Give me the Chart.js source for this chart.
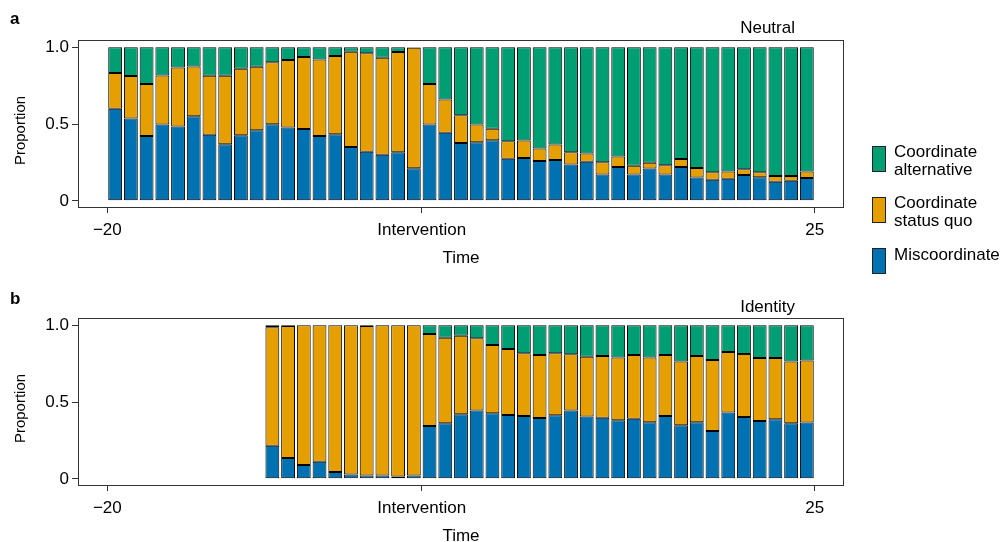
<!DOCTYPE html>
<html>
<head>
<title>Coordination over time</title>
<script src="https://cdn.jsdelivr.net/npm/chart.js"></script>
<style>
  body { margin: 0; background: #fff; font-family: "Liberation Sans", Arial, sans-serif; width: 1001px; height: 542px; position: relative; overflow: hidden; }
  canvas { position: absolute; left: 0; }
  #chartA { top: 0; }
  #chartB { top: 278px; }
  .txt { position: absolute; font-size: 17px; line-height: 17px; color: #000; white-space: nowrap; }
  .panel { font-weight: bold; left: 10px; }
  .ttl { right: 206px; }
  .ylab { position: absolute; font-size: 15px; line-height: 15px; color: #000; white-space: nowrap;
          width: 100px; text-align: center; left: -31px; transform: rotate(-90deg); }
  .key { position: absolute; left: 872px; width: 12px; height: 24px; border: 1px solid #222; }
  .keytxt { position: absolute; left: 894px; font-size: 17px; line-height: 18px; color: #000; }
</style>
</head>
<body>
  <canvas id="chartA" width="1001" height="270"></canvas>
  <canvas id="chartB" width="1001" height="270"></canvas>

  <div class="txt panel" style="top:10px">a</div>
  <div class="txt ttl" style="top:19px">Neutral</div>
  <div class="ylab" style="top:123px">Proportion</div>
  <div class="txt panel" style="top:290px">b</div>
  <div class="txt ttl" style="top:298px">Identity</div>
  <div class="ylab" style="top:401px">Proportion</div>

  <div class="key" style="top:146px; background:#009E73"></div>
  <div class="keytxt" style="top:143px">Coordinate<br>alternative</div>
  <div class="key" style="top:197px; background:#E69F00"></div>
  <div class="keytxt" style="top:194px">Coordinate<br>status quo</div>
  <div class="key" style="top:248px; background:#0072B2"></div>
  <div class="keytxt" style="top:246px">Miscoordinate</div>

<script>
// panel a: Neutral, t = -20 .. 24
const timeA = [-20,-19,-18,-17,-16,-15,-14,-13,-12,-11,-10,-9,-8,-7,-6,-5,-4,-3,-2,-1,
  0,1,2,3,4,5,6,7,8,9,10,11,12,13,14,15,16,17,18,19,20,21,22,23,24];
const miscoordA = [0.600,0.535,0.422,0.497,0.484,0.550,0.430,0.368,0.426,0.460,
  0.499,0.478,0.467,0.422,0.433,0.351,0.319,0.300,0.317,0.212,
  0.497,0.443,0.377,0.381,0.394,0.274,0.278,0.259,0.266,0.236,
  0.255,0.171,0.221,0.171,0.210,0.171,0.221,0.152,0.137,0.143,
  0.169,0.154,0.124,0.131,0.148];
const statusQuoA = [0.231,0.277,0.338,0.319,0.383,0.324,0.384,0.446,0.433,0.412,
  0.402,0.438,0.469,0.497,0.509,0.619,0.642,0.631,0.651,0.784,
  0.263,0.217,0.180,0.116,0.075,0.114,0.114,0.081,0.100,0.081,
  0.053,0.080,0.068,0.058,0.038,0.060,0.051,0.062,0.049,0.048,
  0.037,0.032,0.037,0.030,0.043];
const alternativeA = [0.169,0.188,0.240,0.184,0.133,0.126,0.186,0.186,0.141,0.128,
  0.099,0.084,0.064,0.081,0.058,0.030,0.039,0.069,0.032,0.004,
  0.240,0.340,0.443,0.503,0.531,0.612,0.608,0.660,0.634,0.683,
  0.692,0.749,0.711,0.771,0.752,0.769,0.728,0.786,0.814,0.809,
  0.794,0.814,0.839,0.839,0.809];

// panel b: Identity, t = -10 .. 24
const timeB = [-10,-9,-8,-7,-6,-5,-4,-3,-2,-1,
  0,1,2,3,4,5,6,7,8,9,10,11,12,13,14,15,16,17,18,19,20,21,22,23,24];
const miscoordB = [0.215,0.135,0.090,0.112,0.045,0.028,0.022,0.022,0.015,0.022,
  0.344,0.361,0.421,0.445,0.426,0.415,0.409,0.396,0.413,0.445,
  0.406,0.398,0.381,0.391,0.368,0.409,0.348,0.368,0.312,0.432,
  0.402,0.376,0.387,0.361,0.366];
const statusQuoB = [0.772,0.859,0.910,0.888,0.955,0.972,0.972,0.978,0.985,0.978,
  0.598,0.557,0.510,0.469,0.445,0.430,0.408,0.410,0.404,0.366,
  0.388,0.402,0.408,0.415,0.421,0.397,0.415,0.432,0.462,0.394,
  0.411,0.411,0.400,0.402,0.404];
const alternativeB = [0.013,0.006,0,0,0,0,0.006,0,0,0,
  0.058,0.082,0.069,0.086,0.129,0.155,0.183,0.194,0.183,0.189,
  0.206,0.200,0.211,0.194,0.211,0.194,0.237,0.200,0.226,0.174,
  0.187,0.213,0.213,0.237,0.230];

const xTickValues = [-20, 0, 25];
const xTickLabels = ['\u221220', 'Intervention', '25'];
const yTickValues = [0, 0.5, 1];
const yTickLabels = ['0', '0.5', '1.0'];

const FONT = '"Liberation Sans", Arial, sans-serif';

// R-style box round the plot region
const boxPlugin = {
  id: 'box',
  afterDraw(chart) {
    const { ctx, chartArea: a } = chart;
    ctx.save();
    ctx.strokeStyle = '#333';
    ctx.lineWidth = 1;
    ctx.strokeRect(a.left - 0.5, a.top - 0.5, a.right - a.left + 1, a.bottom - a.top + 1);
    ctx.restore();
  }
};

function ds(label, times, vals, color) {
  return {
    label: label,
    data: times.map((t, i) => ({ x: t + 0.5, y: vals[i] })),
    backgroundColor: color,
    borderColor: '#000',
    borderWidth: 1,
    borderSkipped: false,
    categoryPercentage: 1,
    barPercentage: 0.88
  };
}

function makeChart(id, times, mis, sq, alt) {
  return new Chart(document.getElementById(id), {
    type: 'bar',
    data: {
      datasets: [
        ds('Miscoordinate', times, mis, '#0072B2'),
        ds('Coordinate status quo', times, sq, '#E69F00'),
        ds('Coordinate alternative', times, alt, '#009E73')
      ]
    },
    options: {
      responsive: false,
      animation: false,
      layout: { padding: { left: 0, right: 158, top: 41, bottom: 0 } },
      plugins: { legend: { display: false }, tooltip: { enabled: false } },
      scales: {
        x: {
          type: 'linear', stacked: true, offset: false,
          min: -21.8, max: 26.8,
          afterBuildTicks: s => { s.ticks = xTickValues.map(v => ({ value: v })); },
          afterFit: s => { s.height = 63; },
          ticks: {
            callback: (v, i) => xTickLabels[i],
            autoSkip: false, maxRotation: 0,
            font: { family: FONT, size: 17 }, color: '#000', padding: 7
          },
          grid: { offset: false, drawOnChartArea: false, drawTicks: true, tickLength: 6, tickColor: '#333' },
          border: { display: false },
          title: { display: true, text: 'Time', font: { family: FONT, size: 17 }, color: '#000', padding: { top: 0, bottom: 1 } }
        },
        y: {
          type: 'linear', stacked: true,
          min: -0.04, max: 1.04,
          afterBuildTicks: s => { s.ticks = yTickValues.map(v => ({ value: v })); },
          afterFit: s => { s.width = 79; },
          ticks: {
            callback: (v, i) => yTickLabels[i],
            font: { family: FONT, size: 17 }, color: '#000', padding: 3
          },
          grid: { drawOnChartArea: false, drawTicks: true, tickLength: 7, tickColor: '#333' },
          border: { display: false }
        }
      }
    },
    plugins: [boxPlugin]
  });
}

makeChart('chartA', timeA, miscoordA, statusQuoA, alternativeA);
makeChart('chartB', timeB, miscoordB, statusQuoB, alternativeB);
</script>
</body>
</html>
